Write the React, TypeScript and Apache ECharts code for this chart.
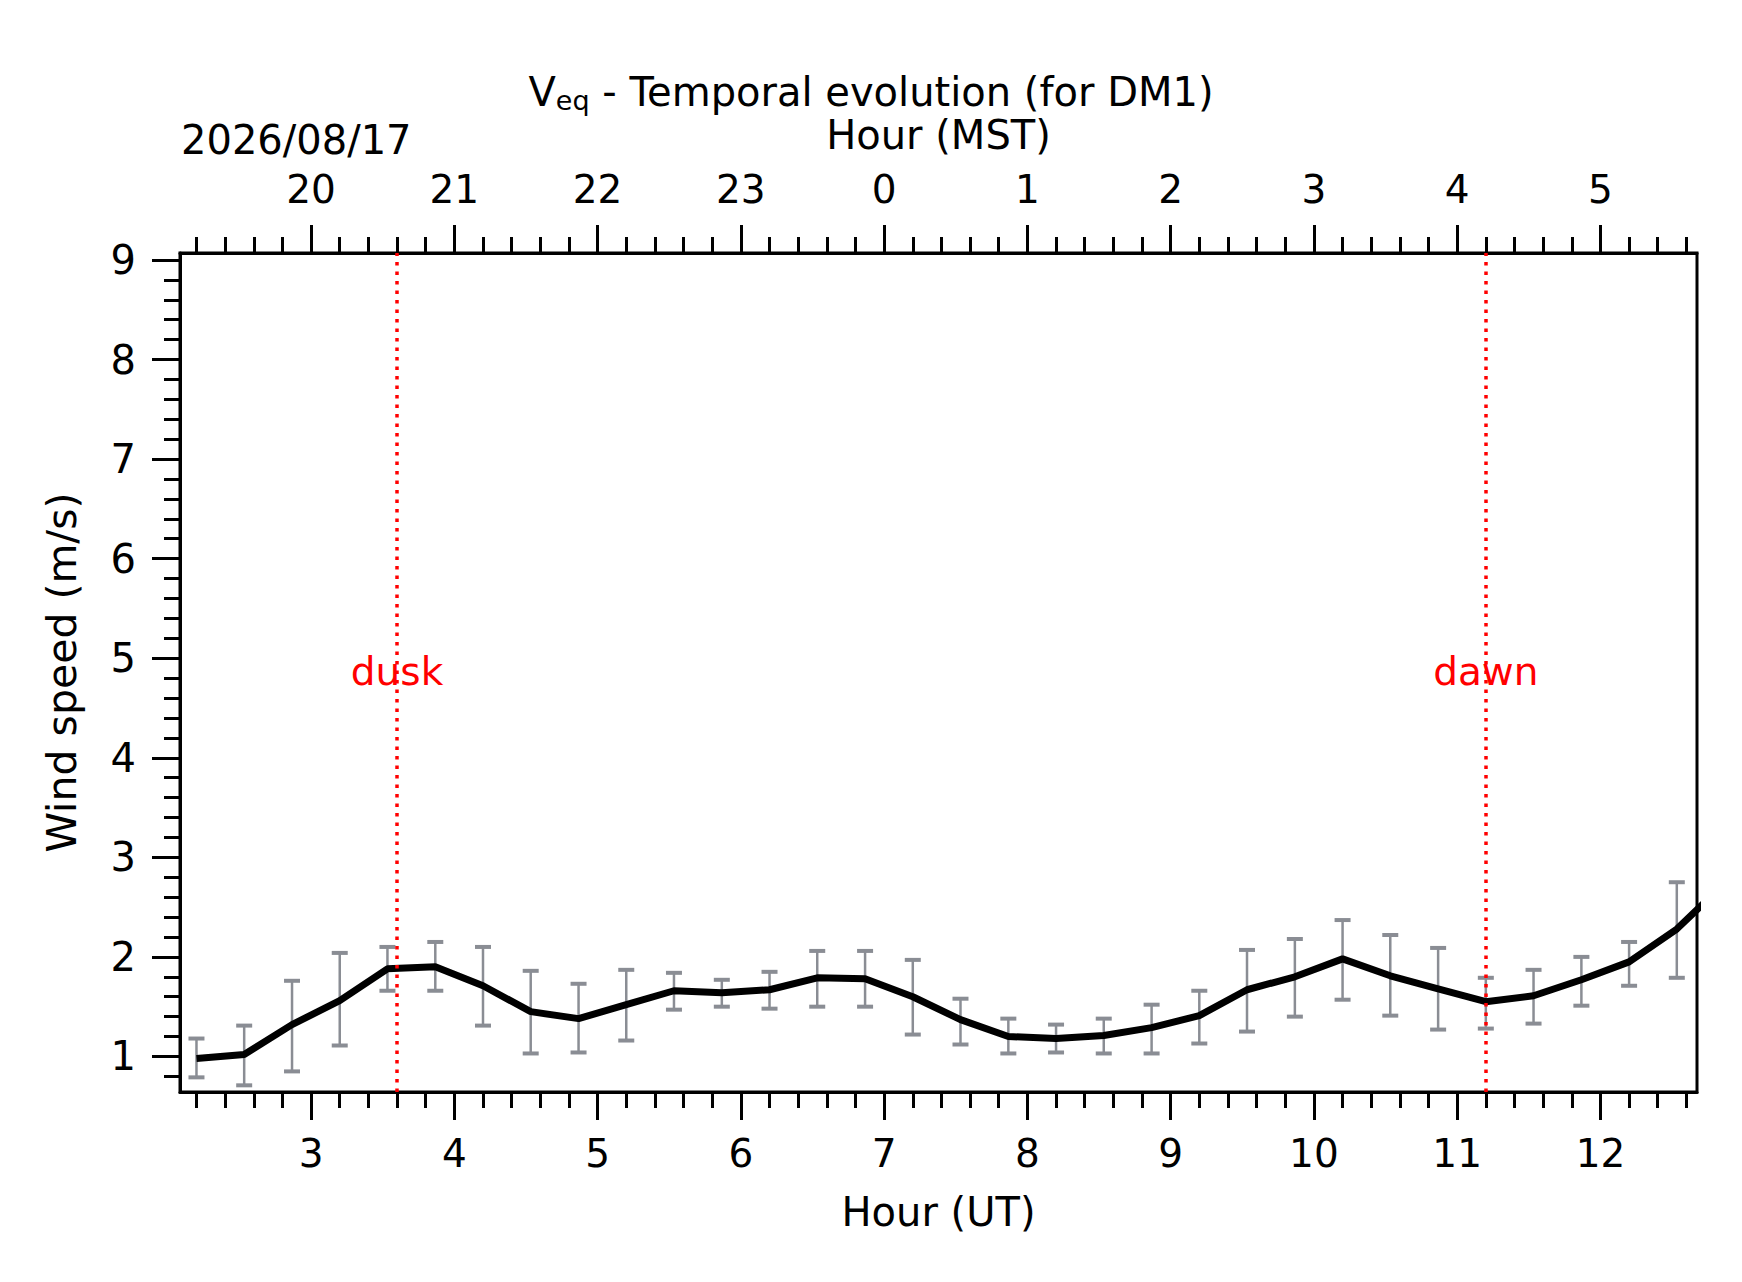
import { useEffect, useRef } from 'react';
import * as echarts from 'echarts';

// Hours (UT) of each sample, 20 min apart
const hours = [2.2, 2.533, 2.867, 3.2, 3.533, 3.867, 4.2, 4.533, 4.867, 5.2, 5.533, 5.867, 6.2, 6.533, 6.867, 7.2, 7.533, 7.867, 8.2, 8.533, 8.867, 9.2, 9.533, 9.867, 10.2, 10.533, 10.867, 11.2, 11.533, 11.867, 12.2, 12.533, 12.867];
const speed = [0.98, 1.02, 1.32, 1.56, 1.88, 1.9, 1.71, 1.45, 1.38, 1.52, 1.66, 1.64, 1.67, 1.79, 1.78, 1.6, 1.37, 1.2, 1.18, 1.21, 1.29, 1.41, 1.67, 1.8, 1.98, 1.81, 1.68, 1.55, 1.61, 1.77, 1.95, 2.28, 2.74];
const errHigh = [1.18, 1.31, 1.76, 2.04, 2.1, 2.15, 2.1, 1.86, 1.73, 1.87, 1.84, 1.77, 1.85, 2.06, 2.06, 1.97, 1.58, 1.38, 1.32, 1.38, 1.52, 1.66, 2.07, 2.18, 2.37, 2.22, 2.09, 1.79, 1.87, 2.0, 2.15, 2.75];
const errLow = [0.79, 0.71, 0.85, 1.11, 1.66, 1.66, 1.31, 1.03, 1.04, 1.16, 1.47, 1.5, 1.48, 1.5, 1.5, 1.22, 1.12, 1.03, 1.04, 1.03, 1.03, 1.13, 1.25, 1.4, 1.57, 1.41, 1.27, 1.28, 1.33, 1.51, 1.71, 1.79];

const xMajor = [3, 4, 5, 6, 7, 8, 9, 10, 11, 12];
const yMajor = [1, 2, 3, 4, 5, 6, 7, 8, 9];
const xMin = 2.085;
const xMax = 12.674;
const yMin = 0.643;
const yMax = 9.07;
const dusk = 3.6;
const dawn = 11.2;
const mstOffset = -7;
const dateLabel = '2026/08/17';

const xMinor: number[] = [];
for (let i = 11; i <= 63; i++) if (i % 5 !== 0) xMinor.push(i / 5);
const yMinor: number[] = [];
for (let i = 4; i <= 45; i++) if (i % 5 !== 0) yMinor.push(i / 5);

const FONT = 'DejaVu Sans';

const App = () => {
  const ref = useRef<HTMLDivElement>(null);

  useEffect(() => {
    if (!ref.current) return;
    const chart = echarts.init(ref.current, null, { renderer: 'svg' });

    const xBase = { type: 'value', min: xMin, max: xMax, splitLine: { show: false } };
    const yBase = { type: 'value', min: yMin, max: yMax, splitLine: { show: false } };
    const lineBlack = { lineStyle: { color: '#000', width: 3 } };
    const plotMid = (180 + (1742 - 45)) / 2;

    const option = {
      animation: false,
      textStyle: { fontFamily: FONT },
      title: {
        text: '{a|V}{s|eq}{a| - Temporal evolution (for DM1)}',
        left: 'center',
        top: 64,
        textStyle: {
          fontWeight: 'normal',
          rich: {
            a: { fontSize: 40, color: '#000', fontFamily: FONT, fontWeight: 'normal' },
            s: { fontSize: 27, color: '#000', fontFamily: FONT, fontWeight: 'normal', padding: [18, 0, 0, 0] },
          },
        },
      },
      graphic: [
        { type: 'text', x: 181, y: 120, style: { text: dateLabel, fontSize: 40, fill: '#000', fontFamily: FONT } },
        { type: 'text', x: plotMid, y: 115, style: { text: 'Hour (MST)', fontSize: 40, fill: '#000', fontFamily: FONT, textAlign: 'center' } },
      ],
      grid: { left: 180, right: 45, top: 253, bottom: 190, show: true, borderColor: '#000', borderWidth: 3 },
      xAxis: [
        {
          ...xBase, position: 'bottom', axisLine: lineBlack,
          axisTick: { customValues: xMajor, length: 28, lineStyle: { color: '#000', width: 3 } },
          axisLabel: { customValues: xMajor, fontSize: 39, color: '#000', margin: 42, fontFamily: FONT },
          name: 'Hour (UT)', nameLocation: 'middle', nameGap: 100,
          nameTextStyle: { fontSize: 40, color: '#000', fontFamily: FONT },
        },
        {
          ...xBase, position: 'bottom', axisLine: { show: false },
          axisTick: { customValues: xMinor, length: 16, lineStyle: { color: '#000', width: 3 } },
          axisLabel: { show: false },
        },
        {
          ...xBase, position: 'top', axisLine: lineBlack,
          axisTick: { customValues: xMajor, length: 28, lineStyle: { color: '#000', width: 3 } },
          axisLabel: {
            customValues: xMajor, fontSize: 39, color: '#000', margin: 44, fontFamily: FONT,
            formatter: (v: number) => String((Math.round(v) + mstOffset + 24) % 24),
          },
        },
        {
          ...xBase, position: 'top', axisLine: { show: false },
          axisTick: { customValues: xMinor, length: 16, lineStyle: { color: '#000', width: 3 } },
          axisLabel: { show: false },
        },
      ],
      yAxis: [
        {
          ...yBase, position: 'left', axisLine: lineBlack,
          axisTick: { customValues: yMajor, length: 28, lineStyle: { color: '#000', width: 3 } },
          axisLabel: { customValues: yMajor, fontSize: 40, color: '#000', margin: 44, fontFamily: FONT },
          name: 'Wind speed (m/s)', nameLocation: 'middle', nameGap: 98,
          nameTextStyle: { fontSize: 41, color: '#000', fontFamily: FONT },
        },
        {
          ...yBase, position: 'left', axisLine: { show: false },
          axisTick: { customValues: yMinor, length: 16, lineStyle: { color: '#000', width: 3 } },
          axisLabel: { show: false },
        },
      ],
      series: [
        {
          type: 'custom',
          xAxisIndex: 0,
          yAxisIndex: 0,
          clip: true,
          data: errLow.map((lo, i) => [hours[i], lo, errHigh[i]]),
          renderItem: (params: any, api: any) => {
            const lo = api.coord([api.value(0), api.value(1)]);
            const hi = api.coord([api.value(0), api.value(2)]);
            const w = 8;
            const style = { stroke: '#8a8d94', lineWidth: 2.5 };
            return {
              type: 'group',
              children: [
                { type: 'line', shape: { x1: lo[0], y1: lo[1], x2: hi[0], y2: hi[1] }, style },
                { type: 'line', shape: { x1: lo[0] - w, y1: lo[1], x2: lo[0] + w, y2: lo[1] }, style: { ...style, lineWidth: 4 } },
                { type: 'line', shape: { x1: hi[0] - w, y1: hi[1], x2: hi[0] + w, y2: hi[1] }, style: { ...style, lineWidth: 4 } },
              ],
            };
          },
          z: 2,
        },
        {
          type: 'line',
          xAxisIndex: 0,
          yAxisIndex: 0,
          data: hours.map((h, i) => [h, speed[i]]),
          showSymbol: false,
          clip: true,
          lineStyle: { color: '#000', width: 7 },
          z: 3,
          markLine: {
            silent: true,
            symbol: 'none',
            label: { show: false },
            lineStyle: { color: '#ff0000', width: 3.5, type: [3.5, 6], opacity: 1 },
            data: [{ xAxis: dusk }, { xAxis: dawn }],
          },
        },
        {
          type: 'scatter',
          xAxisIndex: 0,
          yAxisIndex: 0,
          symbolSize: 0,
          silent: true,
          data: [[dusk, 4.87, 'dusk'], [dawn, 4.87, 'dawn']],
          label: {
            show: true, position: 'inside', color: '#ff0000', fontSize: 39, fontFamily: FONT, opacity: 1,
            formatter: (p: any) => p.value[2],
          },
          itemStyle: { opacity: 1 },
          z: 4,
        },
      ],
    };

    chart.setOption(option as any);
    return () => chart.dispose();
  }, []);

  return <div ref={ref} style={{ position: 'fixed', left: 0, top: 0, width: '100vw', height: '100vh', background: '#fff' }} />;
};

export default App;
